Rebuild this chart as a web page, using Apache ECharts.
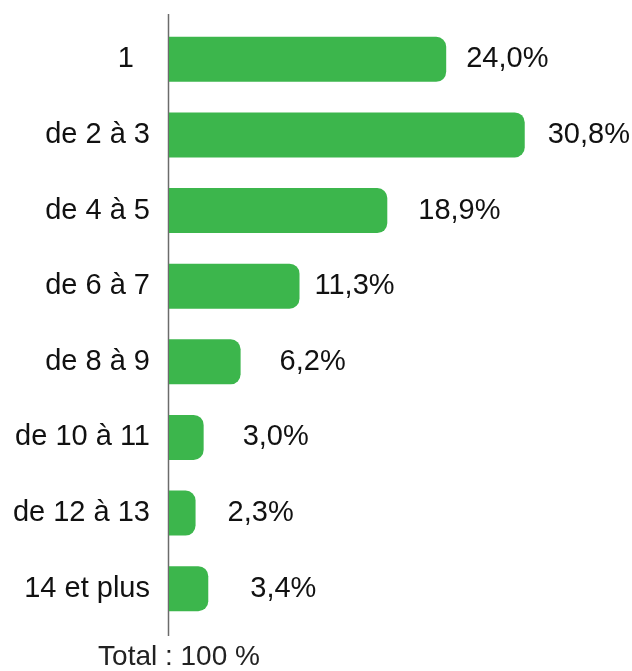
<!DOCTYPE html>
<html>
<head>
<meta charset="utf-8">
<script src="https://cdn.jsdelivr.net/npm/echarts@6/dist/echarts.min.js"></script>
<style>
    html, body { margin: 0; padding: 0; background: #fff; }
    #chart { width: 632px; height: 671px; }
</style>
</head>
<body>
<div id="chart"></div>
<script>
    // categories (top to bottom)
    var categories = ['1  ', 'de 2 à 3', 'de 4 à 5', 'de 6 à 7', 'de 8 à 9', 'de 10 à 11', 'de 12 à 13', '14 et plus'];
    // share in %
    var values = [24.0, 30.8, 18.9, 11.3, 6.2, 3.0, 2.3, 3.4];
    // gap between bar end and its label (px)
    var labelGap = [20, 23, 31, 15, 39, 39, 32, 42];
    var totalText = 'Total : 100 %';

    var font = 'Liberation Sans, Arial, sans-serif';
    var green = '#3cb64c';

    var chart = echarts.init(document.getElementById('chart'));

    var seriesData = values.map(function (v, i) {
        return {
            value: v,
            label: { distance: labelGap[i] }
        };
    });

    chart.setOption({
        animation: false,
        grid: { left: 169, width: 462, top: 21.5, height: 605 },
        xAxis: {
            type: 'value',
            min: 0,
            max: 40,
            show: false
        },
        yAxis: {
            type: 'category',
            data: categories,
            inverse: true,
            axisLine: { show: false },
            axisTick: { show: false },
            axisLabel: {
                margin: 19,
                fontSize: 29,
                fontFamily: font,
                color: '#111'
            }
        },
        series: [{
            type: 'bar',
            data: seriesData,
            barWidth: 45,
            itemStyle: { color: green, borderRadius: [0, 10, 10, 0] },
            label: {
                show: true,
                position: 'right',
                fontSize: 29,
                fontFamily: font,
                color: '#111',
                formatter: function (p) {
                    return p.value.toFixed(1).replace('.', ',') + '%';
                }
            }
        }],
        graphic: [
            // vertical axis line
            {
                type: 'line',
                shape: { x1: 168.5, y1: 14, x2: 168.5, y2: 636 },
                style: { stroke: '#6b6b6b', lineWidth: 1.5 }
            },
            {
                type: 'text',
                x: 179,
                y: 657,
                style: {
                    text: totalText,
                    font: '28px ' + font,
                    fill: '#222',
                    textAlign: 'center',
                    textVerticalAlign: 'middle'
                }
            }
        ]
    });
</script>
</body>
</html>
